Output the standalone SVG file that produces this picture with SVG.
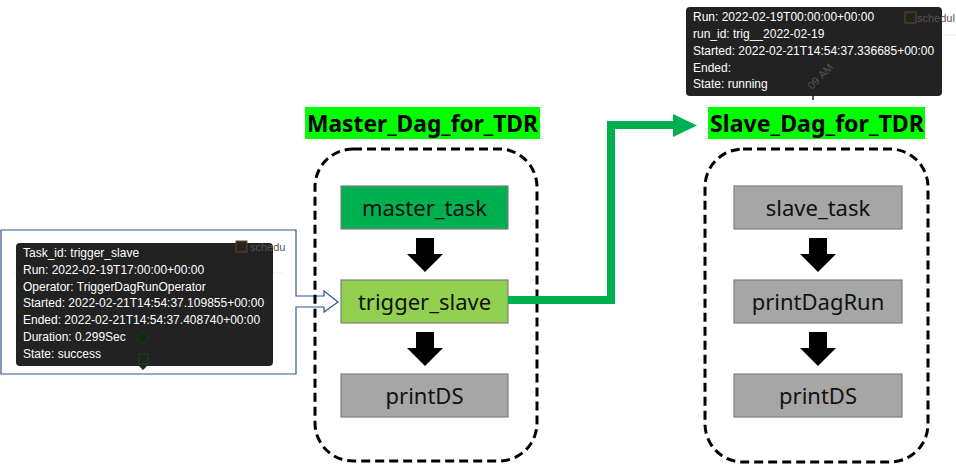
<svg xmlns="http://www.w3.org/2000/svg" width="956" height="464" viewBox="0 0 956 464">
<style>
.title{font-family:"Noto Sans","Open Sans",sans-serif;font-weight:bold;font-size:24px;fill:#000}
.tbg{fill:#00FF00}
.cont{fill:none;stroke:#000;stroke-width:3;stroke-dasharray:9,5}
.task{stroke:#7F7F7F;stroke-width:1.2}
.tl{font-family:"Noto Sans","Open Sans",sans-serif;font-size:22px;fill:#111;text-anchor:middle}
.tip{fill:#222}
.tt{font-family:"Liberation Sans",Arial,sans-serif;font-size:12px;fill:#fff}
.cb{fill:#2a2418;stroke:#5a4a30;stroke-width:1}
.cbt{font-family:"Liberation Sans",Arial,sans-serif;font-size:11px;fill:#555}
.blk{fill:#000}
</style>
<rect width="956" height="464" fill="#fff"/>

<g id="trigger_tooltip">
<path d="M1,230 H296 V296 H324 V291 L338,302 L324,312 V307 H296 V374 H1 Z" fill="#fff" stroke="#2F5597" stroke-width="1.2"/>
<line x1="13" y1="273" x2="283" y2="273" stroke="#eee" stroke-width="1"/>
<rect class="tip" x="16" y="243" width="257" height="123" rx="4"/>
<path d="M139,366 L143,370 L147,366 Z" fill="#222"/>
<circle cx="143" cy="338" r="5" fill="#0f2a0f" stroke="#163616" stroke-width="1.5"/>
<rect x="139" y="354" width="9" height="10" fill="#1a2a1a" stroke="#2a3a2a"/>
<rect class="cb" x="236" y="241" width="11" height="11"/>
<text class="cbt" x="250" y="251" font-size="10.5">schedu</text>
<text class="tt" x="23" y="257">Task_id: trigger_slave</text>
<text class="tt" x="23" y="274">Run: 2022-02-19T17:00:00+00:00</text>
<text class="tt" x="23" y="291">Operator: TriggerDagRunOperator</text>
<text class="tt" x="23" y="307">Started: 2022-02-21T14:54:37.109855+00:00</text>
<text class="tt" x="23" y="324">Ended: 2022-02-21T14:54:37.408740+00:00</text>
<text class="tt" x="23" y="341">Duration: 0.299Sec</text>
<text class="tt" x="23" y="358">State: success</text>
</g>

<g id="dagrun_tooltip">
<line x1="942" y1="35" x2="956" y2="35" stroke="#eee" stroke-width="1"/>
<rect class="tip" x="686" y="7" width="256" height="89" rx="4"/>
<line x1="813" y1="96" x2="813" y2="100" stroke="#222" stroke-width="1.5"/>
<text x="812" y="90" transform="rotate(-45 812 90)" font-family="Liberation Sans,Arial,sans-serif" font-size="11" fill="#555">09 AM</text>
<rect class="cb" x="905" y="12" width="11" height="11"/>
<text class="cbt" x="917" y="22">schedul</text>
<text class="tt" x="693" y="21">Run: 2022-02-19T00:00:00+00:00</text>
<text class="tt" x="693" y="38">run_id: trig__2022-02-19</text>
<text class="tt" x="693" y="55">Started: 2022-02-21T14:54:37.336685+00:00</text>
<text class="tt" x="693" y="72">Ended:</text>
<text class="tt" x="693" y="88">State: running</text>
</g>

<g id="master_dag">
<rect class="tbg" x="305" y="107" width="235" height="32"/>
<text class="title" x="307" y="132" textLength="231" lengthAdjust="spacingAndGlyphs">Master_Dag_for_TDR</text>
<rect class="cont" x="315" y="149" width="222" height="312" rx="38"/>
</g>
<g id="master_task">
<rect class="task" x="341" y="186" width="167" height="43" fill="#00B050"/>
<text class="tl" x="424.5" y="216">master_task</text>
</g>
<g id="trigger_slave">
<rect class="task" x="341" y="280" width="167" height="43" fill="#92D050"/>
<text class="tl" x="424.5" y="310">trigger_slave</text>
</g>
<g id="master_printDS">
<rect class="task" x="341" y="374" width="167" height="43" fill="#A6A6A6"/>
<text class="tl" x="424.5" y="404">printDS</text>
</g>

<g id="slave_dag">
<rect class="tbg" x="708" y="107" width="217" height="32"/>
<text class="title" x="710" y="132" textLength="214" lengthAdjust="spacingAndGlyphs">Slave_Dag_for_TDR</text>
<rect class="cont" x="705" y="149" width="223" height="313" rx="38"/>
</g>
<g id="slave_task">
<rect class="task" x="734" y="186" width="168" height="43" fill="#A6A6A6"/>
<text class="tl" x="818" y="216">slave_task</text>
</g>
<g id="printDagRun">
<rect class="task" x="734" y="280" width="168" height="43" fill="#A6A6A6"/>
<text class="tl" x="818" y="310">printDagRun</text>
</g>
<g id="slave_printDS">
<rect class="task" x="734" y="374" width="168" height="43" fill="#A6A6A6"/>
<text class="tl" x="818" y="404">printDS</text>
</g>

<g id="connectors">
<path class="blk" d="M416,238 H434 V254 H443 L425,272 L407,254 H416 Z"/>
<path class="blk" d="M416,332 H434 V348 H443 L425,366 L407,348 H416 Z"/>
<path class="blk" d="M809,238 H827 V254 H836 L818,272 L800,254 H809 Z"/>
<path class="blk" d="M809,332 H827 V348 H836 L818,366 L800,348 H809 Z"/>
<path d="M508,300 H611 V125 H676" fill="none" stroke="#00B050" stroke-width="8"/>
<path d="M673,114 L697,125.5 L673,137 Z" fill="#00B050"/>
</g>
</svg>
